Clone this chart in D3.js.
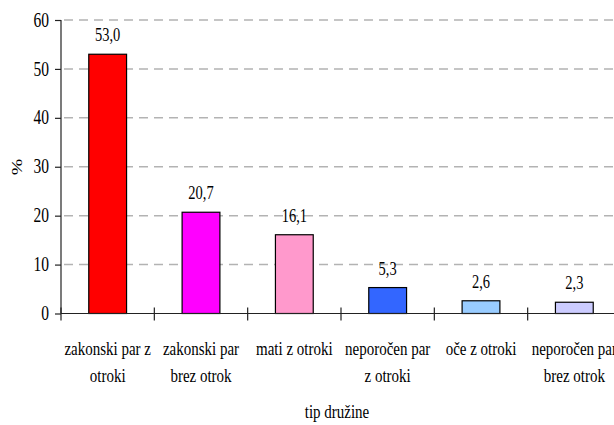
<!DOCTYPE html>
<html>
<head>
<meta charset="utf-8">
<script src="https://cdn.jsdelivr.net/npm/d3@7"></script>
<style>
  html, body { margin: 0; padding: 0; background: #fff; }
</style>
</head>
<body>
<svg id="chart" width="614" height="425" font-family="'Liberation Serif', 'Times New Roman', serif"></svg>
<script>
// Family types (category labels, split into lines) and shares in %
const categories = ["zakonski par z otroki", "zakonski par brez otrok", "mati z otroki",
                    "neporočen par z otroki", "oče z otroki", "neporočen par brez otrok"];
const categoryLines = [["zakonski par z", "otroki"], ["zakonski par", "brez otrok"], ["mati z otroki"],
                       ["neporočen par", "z otroki"], ["oče z otroki"], ["neporočen par", "brez otrok"]];
const values = [53.0, 20.7, 16.1, 5.3, 2.6, 2.3];
const valueLabels = ["53,0", "20,7", "16,1", "5,3", "2,6", "2,3"];
const barColors = ["#ff0000", "#ff00ff", "#ff99cc", "#3366ff", "#99ccff", "#ccccff"];
const yTicks = [0, 10, 20, 30, 40, 50, 60];
const xTitle = "tip družine";
const yTitle = "%";

const FONT = "'Liberation Serif', 'Times New Roman', serif";
const svg = d3.select("#chart");
const plotLeft = 61, plotRight = 621, plotTop = 20, plotBottom = 313.5;
const stretch = 1.32; // text is drawn taller than wide

const x = d3.scaleBand().domain(categories).range([plotLeft, plotRight]).padding(0);
const y = d3.scaleLinear().domain([0, 60]).range([plotBottom, plotTop]);

// dashed horizontal gridlines
svg.append("g").selectAll("line")
  .data(yTicks.filter(d => d > 0))
  .join("line")
  .attr("x1", plotLeft + 3).attr("x2", 614)
  .attr("y1", d => y(d)).attr("y2", d => y(d))
  .attr("stroke", "#b3b3b3").attr("stroke-width", 1.5)
  .attr("stroke-dasharray", "9,6");

// bars
const barW = x.bandwidth() * 0.405;
svg.append("g").selectAll("rect")
  .data(values)
  .join("rect")
  .attr("x", (d, i) => x(categories[i]) + x.bandwidth() / 2 - barW / 2)
  .attr("y", d => y(d))
  .attr("width", barW)
  .attr("height", d => y(0) - y(d))
  .attr("fill", (d, i) => barColors[i])
  .attr("stroke", "#000").attr("stroke-width", 1.2);

// value labels above bars
svg.append("g").selectAll("text")
  .data(values)
  .join("text")
  .attr("transform", (d, i) => `translate(${x(categories[i]) + x.bandwidth() / 2},${y(d) - 13}) scale(1,${stretch})`)
  .attr("text-anchor", "middle")
  .attr("font-family", FONT)
  .attr("font-size", 14.5)
  .text((d, i) => valueLabels[i]);

// y axis
const yAxis = svg.append("g")
  .attr("transform", `translate(${plotLeft},0)`)
  .call(d3.axisLeft(y).tickValues(yTicks).tickSize(6).tickPadding(6).tickFormat(d3.format("d")));
yAxis.attr("font-family", FONT).attr("font-size", 15.5);
yAxis.select(".domain").attr("stroke", "#222").attr("stroke-width", 1.2).attr("d", `M0,${plotTop}V${plotBottom}`);
yAxis.selectAll(".tick line").attr("stroke", "#222").attr("stroke-width", 1.2);
yAxis.selectAll(".tick text")
  .attr("fill", "#000")
  .attr("dy", "0.3em")
  .attr("transform", `scale(1,${stretch})`);

// x axis line with tick marks at category boundaries
const bounds = categories.map(c => x(c)).concat([plotRight]);
svg.append("line")
  .attr("x1", plotLeft).attr("x2", 614).attr("y1", plotBottom).attr("y2", plotBottom)
  .attr("stroke", "#222").attr("stroke-width", 1.2);
svg.append("g").selectAll("line")
  .data(bounds)
  .join("line")
  .attr("x1", d => d).attr("x2", d => d)
  .attr("y1", plotBottom - 6).attr("y2", plotBottom + 7)
  .attr("stroke", "#222").attr("stroke-width", 1.2);

// category labels (one or two lines each)
const cat = svg.append("g").selectAll("g")
  .data(categoryLines)
  .join("g")
  .attr("transform", (d, i) => `translate(${x(categories[i]) + x.bandwidth() / 2},0)`);
cat.selectAll("text")
  .data(d => d)
  .join("text")
  .attr("transform", (d, j) => `translate(0,${355 + j * 27}) scale(1,${stretch})`)
  .attr("text-anchor", "middle")
  .attr("font-family", FONT)
  .attr("font-size", 15)
  .text(d => d);

// axis titles
svg.append("text")
  .attr("transform", `translate(337,418) scale(1,${stretch})`)
  .attr("text-anchor", "middle")
  .attr("font-family", FONT)
  .attr("font-size", 15)
  .text(xTitle);
svg.append("text")
  .attr("transform", `translate(22,167) scale(1,${stretch}) rotate(-90)`)
  .attr("text-anchor", "middle")
  .attr("font-family", FONT)
  .attr("font-size", 15)
  .text(yTitle);
</script>
</body>
</html>
